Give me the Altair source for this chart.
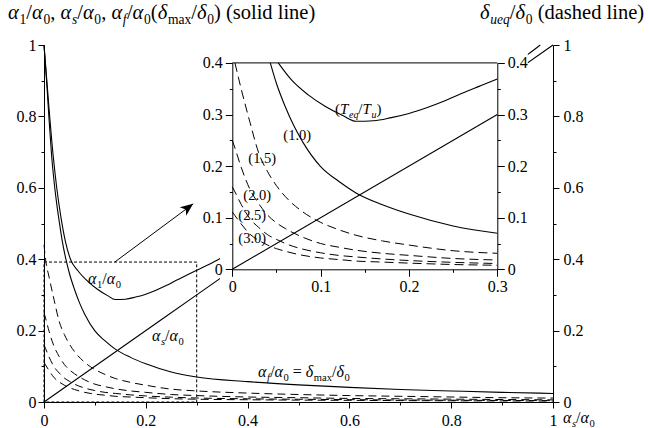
import altair as alt
import pandas as pd

# ---------------- data ----------------
# alpha_f/alpha_0 = delta_max/delta_0  (solid, "(1.0)")
af_x = [0, 0.003, 0.006, 0.01, 0.015, 0.02, 0.025, 0.03, 0.036, 0.043, 0.05, 0.06, 0.07,
        0.08, 0.1, 0.12, 0.14, 0.17, 0.2, 0.25, 0.3, 0.4, 0.5, 0.6, 0.7, 0.8, 0.9, 1.0]
af_y = [1.0, 0.94, 0.88, 0.79, 0.69, 0.615, 0.555, 0.505, 0.45, 0.40, 0.36, 0.315, 0.277,
        0.246, 0.199, 0.171, 0.148, 0.125, 0.107, 0.084, 0.070, 0.057, 0.048, 0.041, 0.035,
        0.031, 0.027, 0.024]

# alpha_1/alpha_0 (solid, "(Teq/Tu)")
a1_x = [0, 0.005, 0.01, 0.018, 0.025, 0.033, 0.042, 0.052, 0.067, 0.086, 0.105, 0.125, 0.14,
        0.16, 0.18, 0.2, 0.22, 0.24, 0.26, 0.28, 0.3, 0.34, 0.4, 0.5, 0.6, 0.7, 0.8, 0.9,
        0.95, 0.975]
a1_y = [1.0, 0.91, 0.82, 0.69, 0.60, 0.52, 0.45, 0.40, 0.367, 0.338, 0.316, 0.298, 0.287,
        0.288, 0.294, 0.302, 0.313, 0.326, 0.341, 0.355, 0.369, 0.397, 0.45, 0.545, 0.64,
        0.735, 0.83, 0.925, 0.973, 1.0]

# alpha_s/alpha_0 (solid straight line)
as_x = [0, 0.3, 1.0]
as_y = [0, 0.3, 1.0]

# delta_ueq/delta_0 (dashed) for Teq/Tu = 1.5, 2.0, 2.5, 3.0
d_x = [0, 0.003, 0.01, 0.02, 0.03, 0.04, 0.05, 0.06, 0.08, 0.1, 0.12, 0.14, 0.17, 0.2,
       0.25, 0.3, 0.4, 0.5, 0.6, 0.7, 0.8, 0.9, 1.0]
d15 = [0.44, 0.40, 0.35, 0.285, 0.225, 0.189, 0.162, 0.141, 0.111, 0.091, 0.077, 0.066,
       0.055, 0.047, 0.036, 0.031, 0.025, 0.021, 0.018, 0.016, 0.014, 0.012, 0.011]
d20 = [0.25, 0.235, 0.198, 0.155, 0.127, 0.105, 0.09, 0.079, 0.062, 0.05, 0.043, 0.037,
       0.031, 0.027, 0.021, 0.018, 0.014, 0.012, 0.010, 0.009, 0.008, 0.007, 0.006]
d25 = [0.16, 0.15, 0.126, 0.098, 0.081, 0.067, 0.058, 0.050, 0.039, 0.032, 0.027, 0.024,
       0.020, 0.017, 0.0135, 0.0112, 0.009, 0.0077, 0.0066, 0.0056, 0.005, 0.0043, 0.0038]
d30 = [0.111, 0.104, 0.088, 0.068, 0.056, 0.047, 0.040, 0.035, 0.027, 0.022, 0.019, 0.016,
       0.014, 0.012, 0.0093, 0.0078, 0.0063, 0.0053, 0.0046, 0.0039, 0.0034, 0.003, 0.0027]

# zoom window shown in the inset, and the arrow pointing to it
zoom_box = {"x0": 0.0, "x1": 0.3, "y0": 0.0, "y1": 0.392}
arrow = {"x0": 0.139, "y0": 0.392, "x1": 0.293, "y1": 0.555}
# inset background panel (in inset units)
panel = {"x0": -0.014, "x1": 0.3345, "y0": -0.044, "y1": 0.421}

FONT = "Liberation Serif, Times New Roman, Times, serif"

# ---------------- tables ----------------
solid = pd.concat([
    pd.DataFrame({"x": a1_x, "y": a1_y, "s": "a1"}),
    pd.DataFrame({"x": af_x, "y": af_y, "s": "af"}),
    pd.DataFrame({"x": as_x, "y": as_y, "s": "as"}),
], ignore_index=True)
dashed = pd.concat([
    pd.DataFrame({"x": d_x, "y": v, "s": n})
    for n, v in [("1.5", d15), ("2.0", d20), ("2.5", d25), ("3.0", d30)]
], ignore_index=True)

solid_in = solid[(solid.x <= 0.3 + 1e-9) & (solid.y <= 0.4 + 1e-9)]
dashed_in = dashed[(dashed.x <= 0.3 + 1e-9) & (dashed.y <= 0.4 + 1e-9)]


def is_major(step):
    return f"abs(datum.value/{step} - round(datum.value/{step})) < 0.001"


def mk_axis(orient, values, step, offset=0, big=6, small=3, pad=2):
    return alt.Axis(
        orient=orient, values=values, title=None, grid=False, offset=offset,
        labelExpr=f"{is_major(step)} ? format(datum.value, '~g') : ''",
        tickSize={"condition": {"test": is_major(step), "value": big}, "value": small},
        labelFont=FONT, labelFontSize=16, labelColor="black", labelPadding=pad,
        tickColor="black", domainColor="black", tickWidth=1, domainWidth=1,
        labelFlush=False, labelOverlap=False, zindex=1,
    )


v_main = [round(i * 0.1, 3) for i in range(11)]
v_inx = [round(i * 0.05, 3) for i in range(7)]
v_iny = [round(i * 0.05, 3) for i in range(9)]

ax_main_x = mk_axis("bottom", v_main, 0.2, pad=4)
ax_main_y = mk_axis("left", v_main, 0.2, pad=2)
ax_main_r = mk_axis("right", v_main, 0.2, pad=4)
ax_in_x = mk_axis("bottom", v_inx, 0.1, offset=-132.7, big=7, pad=2)
ax_in_y = mk_axis("left", v_iny, 0.1, offset=-188.3, big=7, pad=3)
ax_in_r = mk_axis("right", v_iny, 0.1, offset=-55.7, big=7, pad=3)

xs_main = alt.Scale(domain=[0, 1], nice=False, zero=False)
ys_main = alt.Scale(domain=[0, 1], nice=False, zero=False)
xs_in = alt.Scale(domain=[0, 0.3], range=[188.3, 453.3], nice=False, zero=False)
ys_in = alt.Scale(domain=[0, 0.4], range=[224.3, 17.9], nice=False, zero=False)

# ---------------- group A: main chart, solid lines ----------------
A_solid = alt.Chart(solid).mark_line(color="black", strokeWidth=1.1, interpolate="monotone").encode(
    x=alt.X("x:Q", scale=xs_main, axis=ax_main_x),
    y=alt.Y("y:Q", scale=ys_main, axis=ax_main_y),
    detail="s:N",
)
A_box = alt.Chart(pd.DataFrame([zoom_box])).mark_rect(
    filled=False, stroke="black", strokeWidth=1, strokeDash=[3, 2]
).encode(
    x=alt.X("x0:Q", scale=xs_main, axis=ax_main_x), x2="x1:Q",
    y=alt.Y("y0:Q", scale=ys_main, axis=ax_main_y), y2="y1:Q",
)
A_shaft = alt.Chart(pd.DataFrame([arrow])).mark_rule(color="black", strokeWidth=1).encode(
    x=alt.X("x0:Q", scale=xs_main, axis=ax_main_x), x2="x1:Q",
    y=alt.Y("y0:Q", scale=ys_main, axis=ax_main_y), y2="y1:Q",
)
A_head = alt.Chart(pd.DataFrame([arrow])).mark_point(
    shape="M0,0 L0.42,1 L0,0.72 L-0.42,1 Z", filled=True, color="black", opacity=1,
    size=650, angle=53, strokeWidth=0,
).encode(
    x=alt.X("x1:Q", scale=xs_main, axis=ax_main_x),
    y=alt.Y("y1:Q", scale=ys_main, axis=ax_main_y),
)
groupA = alt.layer(A_solid, A_box, A_shaft, A_head)

# ---------------- group B: main chart, dashed lines (right axis) ----------------
groupB = alt.Chart(dashed).mark_line(color="black", strokeWidth=1, strokeDash=[8, 5],
                                     interpolate="monotone").encode(
    x=alt.X("x:Q", scale=xs_main, axis=None),
    y=alt.Y("y:Q", scale=ys_main, axis=ax_main_r),
    detail="s:N",
)

# ---------------- group C: inset, panel + solid lines ----------------
C_panel = alt.Chart(pd.DataFrame([panel])).mark_rect(color="white", opacity=1).encode(
    x=alt.X("x0:Q", scale=xs_in, axis=ax_in_x), x2="x1:Q",
    y=alt.Y("y0:Q", scale=ys_in, axis=ax_in_y), y2="y1:Q",
)
C_top = alt.Chart(pd.DataFrame([{"x0": 0.0, "x1": 0.3, "y0": 0.4}])).mark_rule(
    color="black", strokeWidth=1).encode(
    x=alt.X("x0:Q", scale=xs_in, axis=ax_in_x), x2="x1:Q",
    y=alt.Y("y0:Q", scale=ys_in, axis=ax_in_y),
)
C_solid = alt.Chart(solid_in).mark_line(color="black", strokeWidth=1.1, interpolate="monotone").encode(
    x=alt.X("x:Q", scale=xs_in, axis=ax_in_x),
    y=alt.Y("y:Q", scale=ys_in, axis=ax_in_y),
    detail="s:N",
)
groupC = alt.layer(C_panel, C_top, C_solid)

# ---------------- group D: inset dashed lines (inset right axis) ----------------
groupD = alt.Chart(dashed_in).mark_line(color="black", strokeWidth=1, strokeDash=[9, 5],
                                        interpolate="monotone").encode(
    x=alt.X("x:Q", scale=xs_in, axis=None),
    y=alt.Y("y:Q", scale=ys_in, axis=ax_in_r),
    detail="s:N",
)

# ---------------- text with sub-scripts ----------------
W_EM = {"(": 0.333, ")": 0.333, "/": 0.278, ",": 0.25, " ": 0.25, ".": 0.25, "=": 0.564,
        "T": 0.6, "e": 0.444, "q": 0.5, "u": 0.5, "m": 0.778, "a": 0.444, "x": 0.5,
        "s": 0.389, "f": 0.3, "l": 0.278, "i": 0.278, "o": 0.5, "d": 0.5, "h": 0.5,
        "n": 0.5, "α": 0.56, "δ": 0.5}


def layout(segs, x0, y0, size):
    rows, x = [], x0
    for text, kind in segs:
        sub = kind in ("s", "si")
        it = kind in ("i", "si")
        fs = size * 0.66 if sub else size
        y = y0 + (size * 0.25 if sub else 0)
        body = text.strip(" ")
        lead = len(text) - len(text.lstrip(" "))
        if body:
            rows.append({"px": x + lead * 0.25 * fs, "py": y, "t": body, "fs": fs, "it": it})
        x += sum(W_EM.get(c, 0.5) for c in text) * fs
    return rows


def ratio(sym, sub, subkind):
    return [(sym, "i"), (sub, subkind), ("/", "n"), ("α", "i"), ("0", "s")]


rows = []
rows += layout(ratio("α", "1", "s") + [(", ", "n")] + ratio("α", "s", "si") + [(", ", "n")]
               + ratio("α", "f", "si")
               + [("(", "n"), ("δ", "i"), ("max", "s"), ("/", "n"), ("δ", "i"), ("0", "s"),
                  (") (solid line)", "n")], -36, -26, 20.5)
rows += layout([("δ", "i"), ("ueq", "si"), ("/", "n"), ("δ", "i"), ("0", "s"),
                (" (dashed line)", "n")], 436, -26, 20.5)
rows += layout(ratio("α", "1", "s"), 44, 239, 16)
rows += layout(ratio("α", "s", "si"), 108, 296, 16)
rows += layout(ratio("α", "f", "si") + [(" = ", "n"), ("δ", "i"), ("max", "s"), ("/", "n"),
                                        ("δ", "i"), ("0", "s")], 214, 332, 16)
rows += layout(ratio("α", "s", "si"), 519, 378, 16)
rows += layout([("(", "n"), ("T", "i"), ("eq", "si"), ("/", "n"), ("T", "i"), ("u", "si"),
                (")", "n")], 291, 69, 15)
for lab, px, py in [("(1.0)", 239.3, 95), ("(1.5)", 204.3, 118.3), ("(2.0)", 199.3, 155),
                    ("(2.5)", 194.3, 175), ("(3.0)", 194.3, 198.3)]:
    rows += layout([(lab, "n")], px, py, 14.5)

ann = pd.DataFrame(rows)


def text_layer(df, style):
    return alt.Chart(df).mark_text(align="left", baseline="alphabetic", font=FONT,
                                   fontStyle=style, color="black").encode(
        x=alt.X("px:Q", scale=None),
        y=alt.Y("py:Q", scale=None),
        size=alt.Size("fs:Q", scale=None),
        text="t:N",
    )


groupE = alt.layer(text_layer(ann[~ann.it], "normal"), text_layer(ann[ann.it], "italic"))

chart = alt.layer(groupA, groupB, groupC, groupD, groupE).resolve_scale(
    x="independent", y="independent"
).properties(
    width=509, height=357,
    autosize=alt.AutoSizeParams(type="none"),
    padding={"left": 44, "top": 45, "right": 96, "bottom": 26},
    background="white",
).configure_view(stroke=None)

chart.save("out.html", embed_options={"renderer": "svg", "actions": False})
